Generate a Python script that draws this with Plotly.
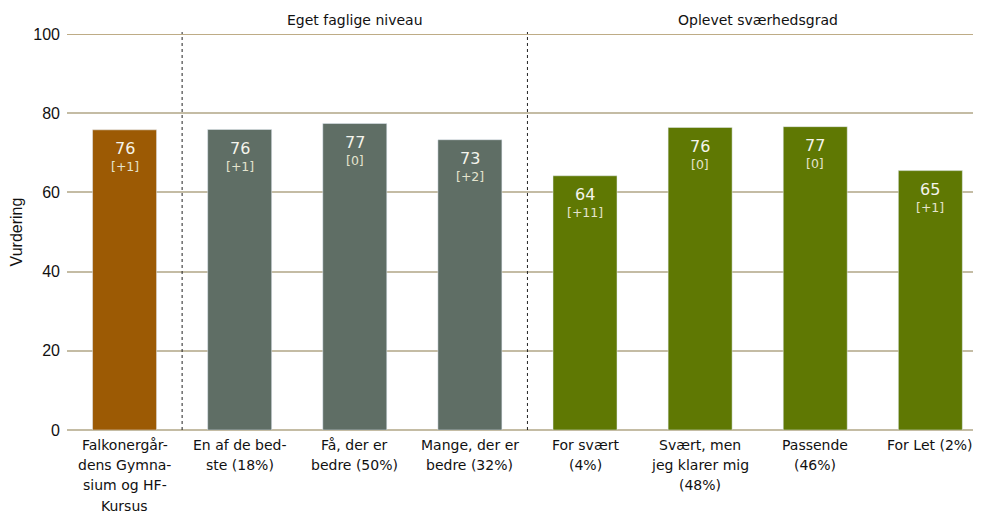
import plotly.graph_objects as go

# categories and values
categories = [
    "Falkonergår-<br>dens Gymna-<br>sium og HF-<br>Kursus",
    "En af de bed-<br>ste (18%)",
    "Få, der er<br>bedre (50%)",
    "Mange, der er<br>bedre (32%)",
    "For svært<br>(4%)",
    "Svært, men<br>jeg klarer mig<br>(48%)",
    "Passende<br>(46%)",
    "For Let (2%)",
]
values = [75.8, 75.9, 77.4, 73.3, 64.2, 76.4, 76.6, 65.5]
value_labels = ["76", "76", "77", "73", "64", "76", "77", "65"]
changes = ["[+1]", "[+1]", "[0]", "[+2]", "[+11]", "[0]", "[0]", "[+1]"]
bar_colors = ["#9C5A04", "#5F6E65", "#5F6E65", "#5F6E65",
              "#5F7803", "#5F7803", "#5F7803", "#5F7803"]
group_titles = ["Eget faglige niveau", "Oplevet sværhedsgrad"]
group_centers = [2, 5.5]
separators = [0.5, 3.5]

FONT = "Tahoma, Verdana, DejaVu Sans, sans-serif"
AXFONT = "Liberation Sans, Arial, sans-serif"
x = list(range(len(categories)))

fig = go.Figure()
fig.add_trace(go.Bar(
    x=x, y=values, marker_color=bar_colors, width=0.556,
    hoverinfo="skip",
))

annotations = []
for i, v in enumerate(values):
    annotations.append(dict(
        x=i, y=v, xref="x", yref="y", yanchor="middle", yshift=-19,
        text=value_labels[i], showarrow=False,
        font=dict(family=FONT, size=16, color="#F4F4EC"),
    ))
    annotations.append(dict(
        x=i, y=v, xref="x", yref="y", yanchor="middle", yshift=-37,
        text=changes[i], showarrow=False,
        font=dict(family=FONT, size=12.5, color="#E4E4CE"),
    ))

# category labels, one line each so the line spacing matches the reference
for i, lab in enumerate(categories):
    for k, line in enumerate(lab.split("<br>")):
        annotations.append(dict(
            x=i, y=0, xref="x", yref="paper", yanchor="middle",
            yshift=-14.5 - 20.4 * k, text=line, showarrow=False,
            font=dict(family=FONT, size=14, color="#111111"),
        ))

for t, c in zip(group_titles, group_centers):
    annotations.append(dict(
        x=c, y=1.036, xref="x", yref="paper", yanchor="middle",
        text=t, showarrow=False, font=dict(family=FONT, size=14, color="#111111"),
    ))

shapes = [dict(type="line", xref="x", yref="paper", x0=s, x1=s, y0=0, y1=1.005,
               line=dict(color="#222222", width=1, dash="dot")) for s in separators]
shapes.append(dict(type="line", xref="paper", yref="y", x0=0, x1=1, y0=100, y1=100,
                   line=dict(color="#A8915E", width=1.5)))

# page body adds an 8px offset, so the figure is sized to fit inside the window
fig.update_layout(
    width=973, height=505,
    margin=dict(l=59, r=0, t=26, b=83),
    plot_bgcolor="white", paper_bgcolor="white",
    showlegend=False,
    font=dict(family=FONT, size=14, color="#111111"),
    annotations=annotations, shapes=shapes,
)
fig.update_xaxes(
    tickvals=x, showticklabels=False, range=[-0.5, 7.44],
    showgrid=False, ticks="", showline=False, automargin=False,
)
fig.update_yaxes(
    range=[0, 100], tickvals=[0, 20, 40, 60, 80, 100],
    gridcolor="#C4BCA4", gridwidth=1.5, zeroline=True, zerolinecolor="#C4BCA4",
    zerolinewidth=1.5, ticks="", tickfont=dict(family=AXFONT, size=16),
    ticklabelstandoff=6,
    title=dict(text="Vurdering", font=dict(family=AXFONT, size=16), standoff=10),
    automargin=False,
)

fig.write_html("out.html")
